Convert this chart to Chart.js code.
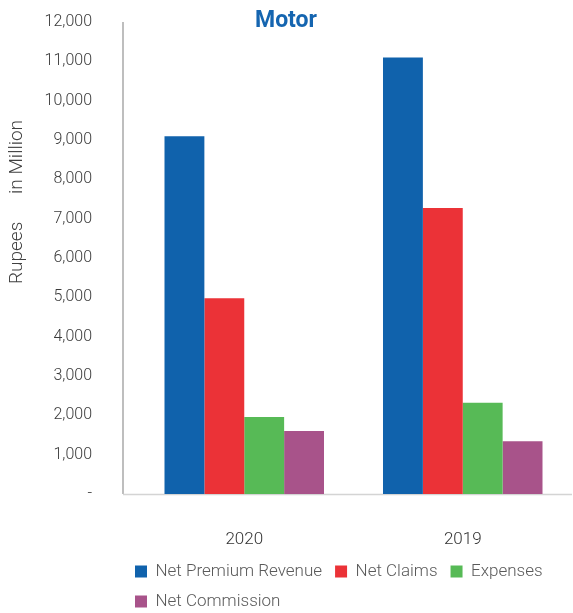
<!DOCTYPE html>
<html>
<head>
<meta charset="utf-8">
<script src="https://cdn.jsdelivr.net/npm/chart.js@4"></script>
<style>
  html, body { margin: 0; padding: 0; background: #fff; }
  #wrap { width: 573px; height: 613px; }
</style>
</head>
<body>
<div id="wrap"><canvas id="motor-chart"></canvas></div>
<script>
// Data
const years = ["2020", "2019"];
const netPremiumRevenue = [9100, 11100];
const netClaims = [4980, 7270];
const expenses = [1960, 2320];
const netCommission = [1600, 1340];

const fontFamily = "Roboto, 'Liberation Sans', sans-serif";

// y axis + x axis lines, and the rotated y title
const axisLines = {
  id: "axisLines",
  beforeDatasetsDraw(chart) {
    const { ctx, chartArea: { left, right, top, bottom } } = chart;
    ctx.save();
    ctx.lineWidth = 1.5;
    ctx.strokeStyle = "#a8a8a8";
    ctx.beginPath();
    ctx.moveTo(left - 12, top);
    ctx.lineTo(left - 12, bottom);
    ctx.stroke();
    ctx.strokeStyle = "#d4d4d4";
    ctx.beginPath();
    ctx.moveTo(left - 12, bottom + 0.5);
    ctx.lineTo(right, bottom + 0.5);
    ctx.stroke();

    ctx.translate(17, 202);
    ctx.rotate(-Math.PI / 2);
    ctx.font = "300 19px " + fontFamily;
    ctx.fillStyle = "#404040";
    ctx.textAlign = "center";
    ctx.textBaseline = "middle";
    ctx.fillText("Rupees      in Million", 0, 0);
    ctx.restore();
  },
};

// legend rows start a little left of the plot area, like the original
const legendShift = {
  id: "legendShift",
  afterLayout(chart) {
    chart.legend.left -= 13;
  },
};

new Chart(document.getElementById("motor-chart"), {
  type: "bar",
  data: {
    labels: years,
    datasets: [
      { label: "Net Premium Revenue", data: netPremiumRevenue, backgroundColor: "#1062ac" },
      { label: "Net Claims", data: netClaims, backgroundColor: "#eb3237" },
      { label: "Expenses", data: expenses, backgroundColor: "#57ba56" },
      { label: "Net Commission", data: netCommission, backgroundColor: "#a8538a" },
    ],
  },
  options: {
    responsive: true,
    maintainAspectRatio: false,
    animation: false,
    layout: { padding: { left: 0, right: 1, top: 0, bottom: -7 } },
    datasets: {
      bar: { categoryPercentage: 0.73, barPercentage: 1, borderWidth: 0 },
    },
    scales: {
      x: {
        grid: { display: false, drawTicks: false },
        border: { display: false },
        ticks: { color: "#333", font: { family: fontFamily, size: 17, weight: 300 }, padding: 36 },
        afterFit(scale) { scale.height = 56; },
      },
      y: {
        min: 0,
        max: 12000,
        grid: { display: false, drawTicks: false },
        border: { display: false },
        ticks: {
          stepSize: 1000,
          color: "#3a3a3a",
          padding: 43,
          font: { family: fontFamily, size: 16, weight: 300 },
          callback: (v) => (v === 0 ? "-" : v.toLocaleString("en-US")),
        },
        afterFit(scale) {
          scale.width = 135;
          scale.paddingTop = 0;
          scale.paddingBottom = 0;
        },
      },
    },
    plugins: {
      title: {
        display: true,
        text: "Motor",
        color: "#1565b0",
        font: { family: fontFamily, size: 23, weight: "bold", lineHeight: 0.96 },
        padding: { top: 10, bottom: -10 },
      },
      legend: {
        position: "bottom",
        align: "start",
        fullSize: false,
        labels: {
          boxWidth: 12,
          boxHeight: 12,
          padding: 13,
          color: "#5a5a5a",
          font: { family: fontFamily, size: 17, weight: 300 },
        },
      },
      tooltip: { enabled: false },
    },
  },
  plugins: [axisLines, legendShift],
});
</script>
</body>
</html>
